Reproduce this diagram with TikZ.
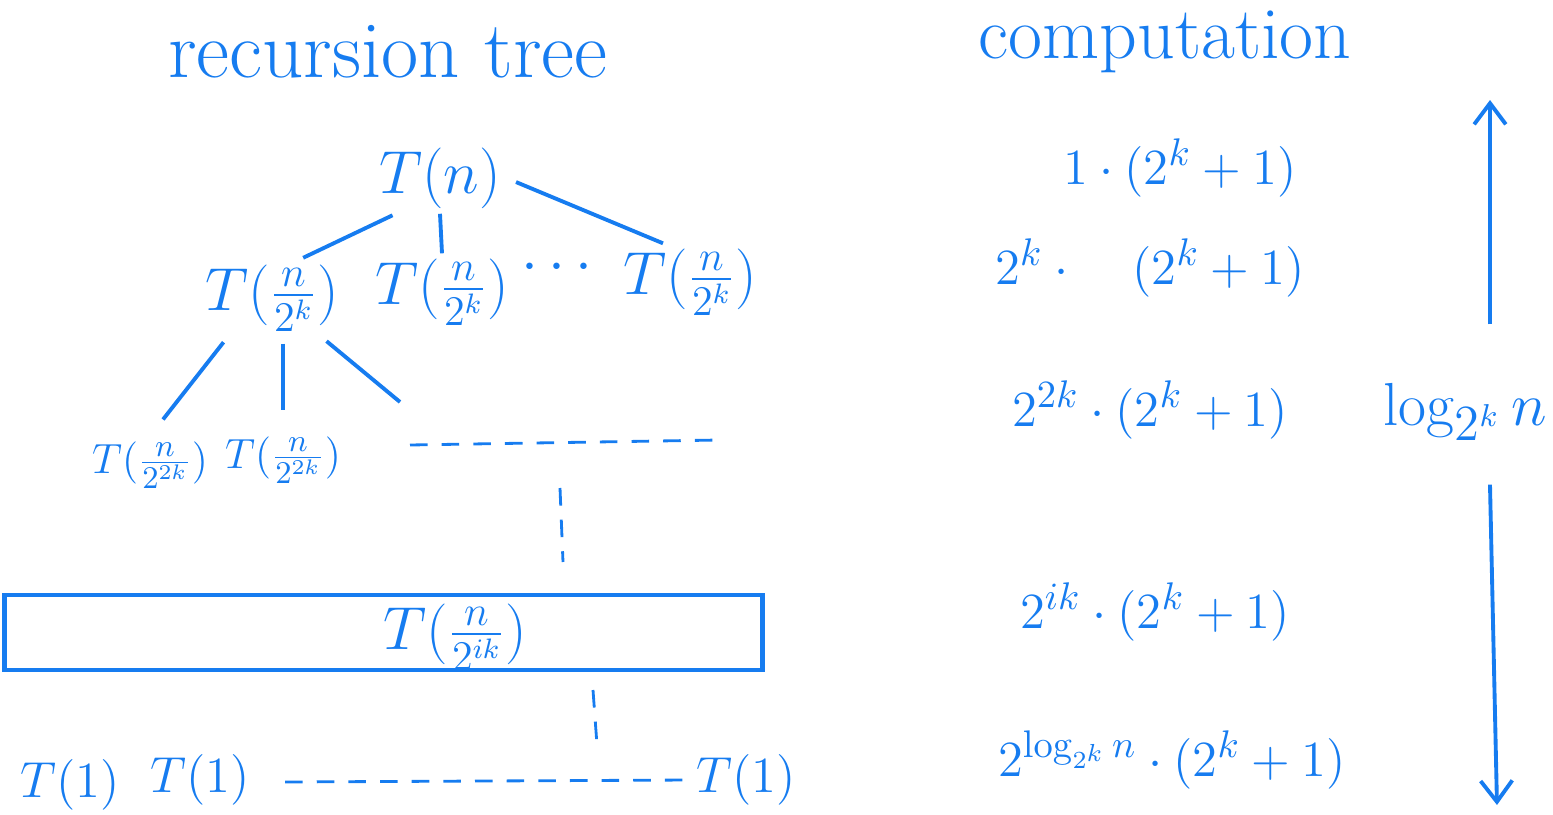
\documentclass[tikz,border=0pt]{standalone}
\usepackage{tikz}
\usetikzlibrary{arrows.meta,positioning,calc}
\usepackage{xcolor}
\definecolor{pen}{RGB}{22,124,240}

\begin{document}
\begin{tikzpicture}[x=0.01cm, y=-0.01cm, line width=1.1pt, draw=pen, text=pen,
        term/.style={font=\fontsize{17}{20}\selectfont, inner sep=1pt},
        small/.style={font=\fontsize{13}{16}\selectfont, inner sep=1pt},
        leaf/.style={font=\fontsize{14}{17}\selectfont, inner sep=1pt},
        cost/.style={font=\fontsize{15}{18}\selectfont, inner sep=1pt},
        title/.style={font=\fontsize{23}{27}\selectfont},
        dots/.style={dash pattern=on 5pt off 4pt, line width=0.8pt},
        arr/.style={-{Straight Barb[length=6pt, width=9pt]}}]
        \useasboundingbox (0,0) rectangle (1553,815);

        % titles
        \node [title] (ttree) at (388,52) {recursion tree};
        \node [title, font=\fontsize{21}{25}\selectfont] (tcomp) at (1165,42) {computation};

        % tree
        \node [term] (root) at (440,178) {$T(n)$};
        \node [term] (a1) at (272,298) {$T(\frac{n}{2^k})$};
        \node [term] (a2) at (442,292) {$T(\frac{n}{2^k})$};
        \node [term] (a3) at (690,282) {$T(\frac{n}{2^k})$};
        \node [term] (adots) at (557,268) {$\cdots$};
        \draw [shorten <=1pt, shorten >=1pt] ($(root.south west)+(22,0)$) -- ($(a1.north)+(28,0)$);
        \draw (root.south) -- (a2.north);
        \draw [shorten <=3pt] (root.east) -- ($(a3.north)+(-27,0)$);

        \node [small] (b1) at (150,465) {$T(\frac{n}{2^{2k}})$};
        \node [small] (b2) at (283,460) {$T(\frac{n}{2^{2k}})$};
        \coordinate (b3) at (400,402);
        \draw [shorten <=2pt, shorten >=6pt] ($(a1.south west)+(28,0)$) -- (b1.north);
        \draw [shorten <=2pt, shorten >=6pt] ($(a1.south)+(11,0)$) -- (b2.north);
        \draw [shorten <=2pt] ($(a1.south east)+(-23,0)$) -- (b3);
        \coordinate (bl) at (410,445);
        \coordinate (br) at (720,440);
        \draw [dots] (bl) -- (br);

        \coordinate (v1) at (560,488);
        \coordinate (v2) at (563,562);
        \draw [dots] (v1) -- (v2);

        % level i
        \node [draw, minimum width=7.57cm, minimum height=0.75cm, line width=1.3pt] (lvl) at (383.5,632.5) {};
        \node [term] (ci) at (455,637) {$T(\frac{n}{2^{ik}})$};

        \coordinate (v3) at (593,690);
        \coordinate (v4) at (597,745);
        \draw [dots] (v3) -- (v4);

        % leaves
        \node [leaf] (d1) at (70,785) {$T(1)$};
        \node [leaf] (d2) at (200,780) {$T(1)$};
        \node [leaf] (d3) at (746,780) {$T(1)$};
        \draw [dots] (d2.east) ++(30,2) coordinate (dl) -- (d3.west);

        % computation
        \node [cost] (r0) at (1180,168) {$1\cdot(2^k+1)$};
        \node [cost] (r1) at (1150,268) {$2^k\cdot\quad(2^k+1)$};
        \node [cost] (r2) at (1150,410) {$2^{2k}\cdot(2^k+1)$};
        \node [cost] (r3) at (1155,612) {$2^{ik}\cdot(2^k+1)$};
        \node [cost] (r4) at (1172,760) {$2^{\log_{2^k}n}\cdot(2^k+1)$};

        \node [title, font=\fontsize{19}{23}\selectfont] (lg) at (1465,412) {$\log_{2^k} n$};
        \coordinate (up) at (1490,100);
        \coordinate (dn) at (1497,805);
        \draw [arr] (lg.north -| up) ++(0,-45) -- (up);
        \draw [arr] (lg.south -| dn) ++(-7,30) -- (dn);
    \end{tikzpicture}
\end{document}
